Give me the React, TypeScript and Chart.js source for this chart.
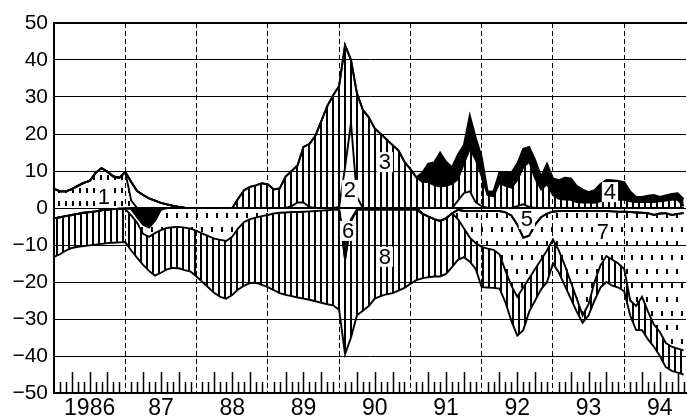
import React, { useEffect, useRef } from 'react';
import { Chart, registerables } from 'chart.js';

Chart.register(...registerables);

// month index 0 = Jan 1986
const months: number[] = Array.from({ length: 107 }, (_, i) => i);
const yearLabels = ['1986', '87', '88', '89', '90', '91', '92', '93', '94'];

// positive stack (bottom -> top)
const s1 = [
  5.2, 4.5, 4.5, 5.1, 6.0, 6.8, 7.3, 9.5, 10.8, 9.8, 8.5, 8.2,
  9.7, 2, 0, 0, 0, 0, 0, 0, 0, 0, 0, 0,
  0, 0, 0, 0, 0, 0, 0, 0, 0, 0, 0, 0,
  0, 0, 0, 0, 0, 0, 0, 0, 0, 0, 0, 0,
  0, 0, 0, 0, 0, 0, 0, 0, 0, 0, 0, 0,
  0, 0, 0, 0, 0, 0, 0, 0, 0, 0, 0, 0,
  0, 0, 0, 0, 0, 0, 0, 0, 0, 0, 0, 0,
  0, 0, 0, 0, 0, 0, 0, 0, 0, 0, 0, 0,
  0, 0, 0, 0, 0, 0, 0, 0, 0, 0, 0,
];
const s2 = [
  0, 0, 0, 0, 0, 0, 0, 0, 0, 0, 0, 0,
  0, 5.0, 4.6, 3.5, 2.6, 2.0, 1.4, 1.0, 0.6, 0.3, 0.1, 0,
  0, 0, 0, 0, 0, 0, 0, 0, 0, 0, 0, 0,
  0, 0, 0, 0, 0.5, 1.5, 1.5, 0.3, 0, 0, 0, 0,
  0.3, 11, 23, 3, 0, 0, 0, 0, 0, 0, 0, 0,
  0, 0, 0, 0, 0, 0, 0, 0, 2, 4, 4.5, 1.5,
  0.5, 0, 0, 0, 0, 0, 0.5, 1.0, 0.3, 0, 0, 0,
  0, 0, 0, 0, 0, 0, 0, 0, 0, 0, 0, 0,
  0, 0, 0, 0, 0, 0, 0, 0, 0, 0, 0,
];
const s3 = [
  0, 0, 0, 0, 0, 0, 0, 0, 0, 0, 0, 0,
  0, 0, 0, 0, 0, 0, 0, 0, 0, 0, 0, 0,
  0, 0, 0, 0, 0, 0, 0, 2.5, 4.8, 5.7, 6.1, 6.7,
  6.4, 5.0, 5.3, 8.5, 9.5, 10, 15, 17, 19.5, 23.5, 27.5, 30.5,
  32.7, 33, 17, 28, 26.5, 24.5, 21.5, 20, 18.5, 17, 15.5, 12.5,
  10.5, 8.3, 7.1, 7.0, 6.2, 5.8, 6.0, 6.5, 5.8, 8, 11.5, 11.5,
  8, 3.5, 3.2, 6.8, 6.0, 5.5, 7, 10, 12.2, 8, 5, 6.5,
  3.5, 2.5, 2.3, 2.2, 1.6, 1.5, 1.5, 1.4, 1.8, 2.2, 2.3, 2.2,
  2.2, 1.8, 1.6, 1.6, 1.6, 1.6, 1.8, 2.0, 2.2, 2.2, 0.5,
];
const s4 = [
  0, 0, 0, 0, 0, 0, 0, 0, 0, 0, 0, 0,
  0, 0, 0, 0, 0, 0, 0, 0, 0, 0, 0, 0,
  0, 0, 0, 0, 0, 0, 0, 0, 0, 0, 0, 0,
  0, 0, 0, 0, 0, 0, 0, 0, 0, 0, 0, 0,
  0, 0, 0, 0, 0, 0, 0, 0, 0, 0, 0, 0,
  0, 0, 2.4, 5, 6.1, 9.2, 6.5, 4.5, 6.7, 5, 9, 6,
  5.3, 1, 1.3, 2.9, 3.6, 4, 4.5, 5, 4, 5, 3.5, 5.5,
  4.5, 5, 5.9, 5.8, 4.4, 3.5, 2.8, 3.4, 4.7, 5.4, 5.2, 5.1,
  4.8, 2.7, 1.4, 1.4, 1.7, 1.9, 1.2, 1.4, 1.6, 1.8, 1.9,
];
// negative stack (top -> bottom)
const s5 = [
  -2.8, -2.5, -2.2, -1.9, -1.6, -1.3, -1.1, -0.9, -0.6, -0.4, -0.3, -0.2,
  -0.1, 0, 0, 0, 0, 0, 0, 0, 0, 0, 0, 0,
  0, 0, 0, 0, 0, 0, 0, 0, 0, 0, 0, 0,
  0, 0, 0, 0, 0, 0, 0, 0, 0, 0, 0, 0,
  -0.5, -10, -3, -0.5, 0, 0, 0, 0, 0, 0, 0, 0,
  0, 0, -1.5, -2.3, -3.0, -3.5, -2.8, -1.5, -0.5, -0.8, -0.8, -0.8,
  -0.8, -0.8, -0.8, -0.8, -1.2, -2.0, -4.5, -8.0, -7.5, -4.5, -2.5, -1.5,
  -1.0, -0.8, -0.8, -0.8, -0.8, -0.8, -0.8, -0.8, -0.8, -0.8, -0.9, -1.0,
  -1.0, -1.1, -1.2, -1.3, -1.4, -1.9, -1.5, -1.4, -1.9, -1.6, -1.4,
];
const s6 = [
  0, 0, 0, 0, 0, 0, 0, 0, 0, 0, 0, 0,
  0, -0.3, -2.5, -4.5, -5.3, -3.5, -0.5, 0, 0, 0, 0, 0,
  0, 0, 0, 0, 0, 0, 0, 0, 0, 0, 0, 0,
  0, 0, 0, 0, 0, 0, 0, 0, 0, 0, 0, 0,
  0, -4, -0.5, 0, 0, 0, 0, 0, 0, 0, 0, 0,
  0, 0, 0, 0, 0, 0, 0, 0, 0, 0, 0, 0,
  0, 0, 0, 0, 0, 0, 0, 0, 0, 0, 0, 0,
  0, 0, 0, 0, 0, 0, 0, 0, 0, 0, 0, 0,
  0, 0, 0, 0, 0, 0, 0, 0, 0, 0, 0,
];
const s7 = [
  0, 0, 0, 0, 0, 0, 0, 0, 0, 0, 0, 0,
  -0.2, -1.7, -1.5, -2.5, -2.5, -3.3, -5.5, -5.4, -5.2, -5.1, -5.3, -5.6,
  -6.2, -6.9, -7.6, -8.3, -8.6, -8.9, -7.8, -5.5, -3.8, -3.0, -2.6, -2.2,
  -1.9, -1.5, -1.3, -1.2, -1.1, -1.1, -1.0, -0.9, -0.8, -0.7, -0.6, -0.5,
  0, 0, 0, 0, -0.5, -0.5, -0.5, -0.5, -0.5, -0.5, -0.5, -0.5,
  -0.5, -0.5, 0, 0, 0, 0, 0, 0, -2.5, -4.7, -7.2, -8.7,
  -9.7, -10.2, -10.5, -11.7, -15.8, -19, -19.5, -13.5, -11.5, -12, -11.5, -10,
  -7.5, -10.7, -14.7, -19.2, -23.7, -28.2, -25.2, -19.2, -14.7, -12.2, -13.1, -14,
  -15.5, -23.9, -25.3, -22.7, -26.6, -29.6, -32, -35.1, -35.6, -36.4, -37.1,
];
const s8 = [
  -10.4, -10.0, -9.3, -8.9, -8.9, -9.0, -9.0, -9.0, -9.1, -9.1, -9.1, -9.1,
  -8.9, -9.5, -9.5, -8.4, -9.2, -11.5, -11.5, -11.2, -11.0, -11.2, -11.5, -11.6,
  -12.3, -13.1, -13.9, -14.7, -15.4, -15.6, -15.7, -16.5, -17.2, -17.3, -17.6, -18.6,
  -19.5, -20.7, -21.7, -22.3, -22.7, -23.1, -23.5, -23.9, -24.4, -24.9, -25.4, -25.8,
  -27.0, -25.5, -31.5, -28.5, -27.3, -26.0, -24.0, -23.3, -22.8, -22.5, -21.8, -21.1,
  -20.0, -19.0, -17.5, -16.4, -15.5, -15.0, -15.0, -14.5, -11.0, -7.8, -6.5, -7.0,
  -10.9, -10.5, -10.3, -9.3, -8.5, -9.5, -10.5, -11.5, -9.0, -8.5, -8.0, -8.5,
  -6.5, -6.0, -5.5, -4.5, -3.5, -2.0, -3.0, -5.0, -6.0, -7.0, -7.0, -6.5,
  -6.0, -4.0, -6.5, -9.0, -7.5, -6.0, -6.5, -6.5, -6.5, -6.5, -6.5,
];

// area labels: text with anchor in data units (month, value)
const areaLabelText = ['1', '2', '3', '4', '5', '6', '7', '8'];
const areaLabelMonth = [8.4, 49.8, 55.7, 93.6, 79.6, 49.5, 92.4, 55.7];
const areaLabelValue = [3.0, 4.9, 12.4, 4.3, -3.0, -6.2, -6.5, -13.2];

const FONT = '"Liberation Sans", Arial, sans-serif';

export default function App() {
  const ref = useRef<HTMLCanvasElement>(null);

  useEffect(() => {
    const canvas = ref.current!;
    const cctx = canvas.getContext('2d')!;

    const makePattern = (w: number, h: number, rects: number[][]) => {
      const c = document.createElement('canvas');
      c.width = w;
      c.height = h;
      const g = c.getContext('2d')!;
      g.fillStyle = '#000';
      rects.forEach(([x, y, rw, rh]) => g.fillRect(x, y, rw, rh));
      return cctx.createPattern(c, 'repeat')!;
    };
    const hatch = makePattern(6, 6, [[2, 0, 2, 6]]);
    const dots1 = makePattern(7, 13, [[2, 6, 2, 5]]);
    const dots7 = makePattern(10, 28, [[1, 3, 2, 5], [6, 17, 2, 5]]);
    const none = 'rgba(0,0,0,0)';

    const mk = (data: number[], stack: string, fill: any, bg: any) => ({
      data,
      stack,
      fill,
      backgroundColor: bg,
      borderColor: '#000',
      borderWidth: 1.9,
      pointRadius: 0,
      tension: 0,
    });

    const datasets = [
      mk(s1, 'pos', 'origin', dots1),
      mk(s2, 'pos', '-1', none),
      mk(s3, 'pos', '-1', hatch),
      mk(s4, 'pos', '-1', '#000'),
      mk(s5, 'neg', 'origin', none),
      mk(s6, 'neg', '-1', '#000'),
      mk(s7, 'neg', '-1', dots7),
      mk(s8, 'neg', '-1', hatch),
    ];

    const framePlugin = {
      id: 'frame',
      afterDraw(chart: any) {
        const { ctx, chartArea: a, scales } = chart;
        const x = scales.x;
        ctx.save();
        ctx.strokeStyle = '#000';
        ctx.lineWidth = 2;
        ctx.beginPath();
        ctx.moveTo(a.left - 1, a.top);
        ctx.lineTo(a.right + 1, a.top);
        ctx.stroke();
        ctx.lineWidth = 1.5;
        ctx.beginPath();
        for (let m = 1; m < 107; m++) {
          if (m % 12 === 0) continue;
          const px = Math.round(x.getPixelForValue(m)) + 0.5;
          if (px > a.right) break;
          const len = m % 3 === 0 ? 21 : 11;
          ctx.moveTo(px, a.bottom);
          ctx.lineTo(px, a.bottom - len);
        }
        ctx.stroke();
        ctx.restore();
      },
    };

    const labelPlugin = {
      id: 'areaLabels',
      afterDatasetsDraw(chart: any) {
        const { ctx, scales } = chart;
        ctx.save();
        ctx.font = `22px ${FONT}`;
        ctx.textAlign = 'center';
        ctx.textBaseline = 'middle';
        areaLabelText.forEach((t, i) => {
          const px = scales.x.getPixelForValue(areaLabelMonth[i]);
          const py = scales.y.getPixelForValue(areaLabelValue[i]);
          const w = ctx.measureText(t).width + 4;
          ctx.fillStyle = '#fff';
          ctx.fillRect(px - w / 2, py - 10, w, 20);
          ctx.fillStyle = '#000';
          ctx.fillText(t, px, py + 1);
        });
        ctx.restore();
      },
    };

    const chart = new Chart(canvas, {
      type: 'line',
      data: { labels: months, datasets },
      options: {
        responsive: false,
        animation: false,
        devicePixelRatio: 1,
        layout: { padding: { top: 23, right: 1, left: 0, bottom: 0 } },
        plugins: { legend: { display: false }, tooltip: { enabled: false } },
        scales: {
          x: {
            type: 'linear',
            min: 0,
            max: 106.4,
            afterBuildTicks: (s: any) => {
              const t: any[] = [];
              for (let v = 6; v <= 102; v += 6) t.push({ value: v });
              s.ticks = t;
            },
            afterFit: (s: any) => {
              s.height = 26;
            },
            grid: {
              drawTicks: false,
              lineWidth: 1,
              color: (c: any) => (c.tick && c.tick.value % 12 === 0 ? '#000' : 'rgba(0,0,0,0)'),
            },
            border: { display: true, color: '#000', width: 2, dash: [5, 3] },
            ticks: {
              padding: 2,
              autoSkip: false,
              maxRotation: 0,
              color: '#000',
              font: { family: FONT, size: 23 },
              callback: (v: any) => (v % 12 === 6 ? yearLabels[(v - 6) / 12] : ''),
            },
          },
          y: {
            stacked: true,
            min: -50,
            max: 50,
            afterFit: (s: any) => {
              s.width = 54;
            },
            grid: { drawTicks: false, color: '#000', lineWidth: 1 },
            border: { display: true, color: '#000', width: 2 },
            ticks: {
              stepSize: 10,
              padding: 6,
              color: '#000',
              font: { family: FONT, size: 21 },
              callback: (v: any) => (v < 0 ? '\u2212' + Math.abs(v) : String(v)),
            },
          },
        },
      } as any,
      plugins: [framePlugin, labelPlugin],
    } as any);

    return () => chart.destroy();
  }, []);

  return (
    <div style={{ position: 'fixed', left: 0, top: 0, width: 687, height: 419, background: '#fff' }}>
      <canvas ref={ref} width={687} height={419} style={{ display: 'block' }} />
    </div>
  );
}
